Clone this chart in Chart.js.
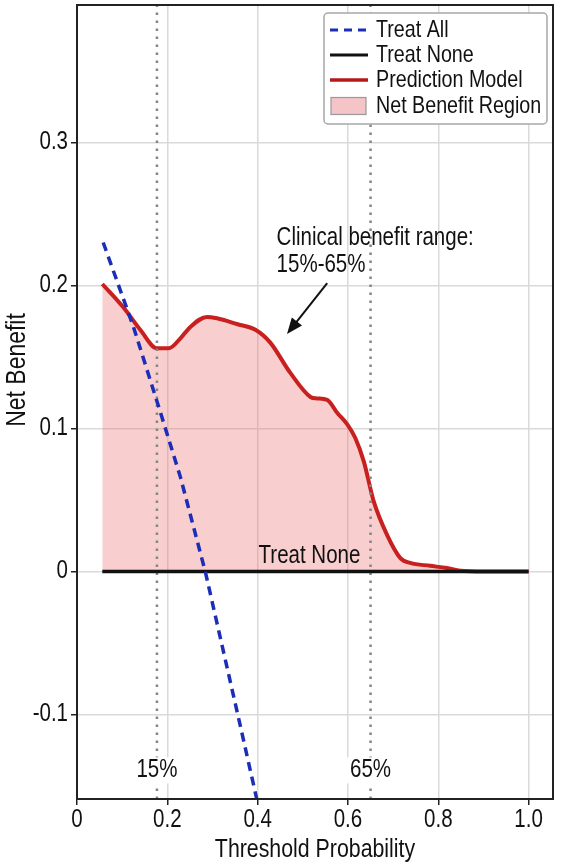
<!DOCTYPE html>
<html>
<head>
<meta charset="utf-8">
<script src="https://cdn.jsdelivr.net/npm/chart.js@4"></script>
<style>
  html, body { margin: 0; padding: 0; background: #fff; }
  canvas { display: block; }
</style>
</head>
<body>
<canvas id="dca" width="566" height="868"></canvas>
<script>
// values
const modelX = [0.056, 0.103, 0.140, 0.177, 0.203, 0.229, 0.251, 0.288, 0.310, 0.354, 0.395, 0.428,
  0.472, 0.517, 0.531, 0.554, 0.576, 0.598, 0.616, 0.635, 0.657, 0.686, 0.716, 0.738, 0.782, 0.819, 0.849, 0.90, 1.0];
const modelY = [0.201, 0.1845, 0.169, 0.156, 0.156, 0.163, 0.171, 0.178, 0.177, 0.173, 0.169, 0.160,
  0.139, 0.122, 0.121, 0.120, 0.111, 0.103, 0.0935, 0.077, 0.049, 0.026, 0.0094, 0.006, 0.004, 0.0024, 0.0005, 0, 0];

const treatAllX = [0.058, 0.125, 0.184, 0.229, 0.284, 0.356, 0.398];
const treatAllY = [0.230, 0.171, 0.112, 0.066, 0, -0.100, -0.159];

const treatNoneX = [0.056, 1.0];
const treatNoneY = [0, 0];

const cutoffs = [0.177, 0.65];
const cutoffLabels = ['15%', '65%'];

const xTickLabels = ['0', '0.2', '0.4', '0.6', '0.8', '1.0'];
const yTickLabels = ['-0.1', '0', '0.1', '0.2', '0.3'];

const legendLabels = ['Treat All', 'Treat None', 'Prediction Model', 'Net Benefit Region'];

const Y_MIN = -0.159, Y_MAX = 0.396, X_MAX = 1.054;
const FONT = "'Liberation Sans', Arial, sans-serif";
const SQUEEZE = 0.82; // reference type is narrow

const toPoints = (xs, ys) => xs.map((v, i) => ({ x: v, y: ys[i] }));

// narrow text helper
function text(ctx, str, x, y, size, align, rot) {
  ctx.save();
  ctx.translate(x, y);
  if (rot) ctx.rotate(rot);
  ctx.scale(SQUEEZE, 1);
  ctx.font = size + 'px ' + FONT;
  ctx.textAlign = align || 'left';
  ctx.textBaseline = 'middle';
  ctx.fillStyle = '#111';
  ctx.fillText(str, 0, 0);
  ctx.restore();
}

const cutoffSets = cutoffs.map(c => ({
  label: 'cutoff',
  data: [{ x: c, y: Y_MIN }, { x: c, y: Y_MAX }],
  borderColor: '#858585',
  borderWidth: 2.5,
  borderDash: [2.5, 5.5],
  pointRadius: 0,
  order: 3
}));

const overlay = {
  id: 'overlay',
  afterDraw(chart) {
    const { ctx, chartArea: a, scales: { x, y } } = chart;
    ctx.save();

    // frame
    ctx.strokeStyle = '#222';
    ctx.lineWidth = 2;
    ctx.strokeRect(a.left, a.top, a.right - a.left, a.bottom - a.top);

    // tick labels
    x.ticks.forEach(t => {
      text(ctx, xTickLabels[Math.round(t.value / 0.2)], x.getPixelForValue(t.value), a.bottom + 21, 25, 'center');
    });
    y.ticks.forEach(t => {
      text(ctx, yTickLabels[Math.round(t.value * 10) + 1], a.left - 9, y.getPixelForValue(t.value), 25, 'right');
    });

    // axis titles
    text(ctx, 'Threshold Probability', (a.left + a.right) / 2, 850, 26, 'center');
    text(ctx, 'Net Benefit', 17, 370, 28, 'center', -Math.PI / 2);

    // cutoff labels
    ctx.font = '25px ' + FONT;
    cutoffs.forEach((c, i) => {
      const px = x.getPixelForValue(c), py = y.getPixelForValue(-0.139);
      const w = ctx.measureText(cutoffLabels[i]).width * SQUEEZE;
      ctx.fillStyle = '#fff';
      ctx.fillRect(px - w / 2 - 3, py - 13, w + 6, 26);
      text(ctx, cutoffLabels[i], px, py, 25, 'center');
    });

    // annotation text
    text(ctx, 'Clinical benefit range:', x.getPixelForValue(0.442), y.getPixelForValue(0.2334), 25);
    text(ctx, '15%-65%', x.getPixelForValue(0.442), y.getPixelForValue(0.2143), 25);
    text(ctx, 'Treat None', x.getPixelForValue(0.402), y.getPixelForValue(0.0105), 25);

    // arrow
    const x0 = x.getPixelForValue(0.554), y0 = y.getPixelForValue(0.2016);
    const x1 = x.getPixelForValue(0.465), y1 = y.getPixelForValue(0.166);
    const ang = Math.atan2(y1 - y0, x1 - x0);
    ctx.strokeStyle = '#111';
    ctx.fillStyle = '#111';
    ctx.lineWidth = 2;
    ctx.beginPath();
    ctx.moveTo(x0, y0);
    ctx.lineTo(x1 - 10 * Math.cos(ang), y1 - 10 * Math.sin(ang));
    ctx.stroke();
    ctx.beginPath();
    ctx.moveTo(x1, y1);
    ctx.lineTo(x1 - 16 * Math.cos(ang) + 6.5 * Math.sin(ang), y1 - 16 * Math.sin(ang) - 6.5 * Math.cos(ang));
    ctx.lineTo(x1 - 16 * Math.cos(ang) - 6.5 * Math.sin(ang), y1 - 16 * Math.sin(ang) + 6.5 * Math.cos(ang));
    ctx.closePath();
    ctx.fill();

    // legend box
    const lx = a.right - 229, ly = a.top + 8, lw = 223, lh = 111;
    ctx.fillStyle = '#fff';
    ctx.strokeStyle = '#a8a8a8';
    ctx.lineWidth = 1.5;
    ctx.beginPath();
    ctx.roundRect(lx, ly, lw, lh, 4);
    ctx.fill();
    ctx.stroke();

    const rows = [ly + 17, ly + 42, ly + 67, ly + 93];
    const sx0 = lx + 6, sx1 = lx + 44;
    ctx.lineCap = 'butt';
    ctx.strokeStyle = '#1c2db8'; ctx.lineWidth = 3; ctx.setLineDash([8, 6]);
    ctx.beginPath(); ctx.moveTo(sx0, rows[0]); ctx.lineTo(sx1, rows[0]); ctx.stroke();
    ctx.setLineDash([]);
    ctx.strokeStyle = '#111'; ctx.lineWidth = 3;
    ctx.beginPath(); ctx.moveTo(sx0, rows[1]); ctx.lineTo(sx1, rows[1]); ctx.stroke();
    ctx.strokeStyle = '#b51a1a'; ctx.lineWidth = 3.5;
    ctx.beginPath(); ctx.moveTo(sx0, rows[2]); ctx.lineTo(sx1, rows[2]); ctx.stroke();
    ctx.fillStyle = '#f4c4c6'; ctx.strokeStyle = '#999'; ctx.lineWidth = 1.2;
    ctx.fillRect(sx0 + 1, rows[3] - 8.5, 35, 17);
    ctx.strokeRect(sx0 + 1, rows[3] - 8.5, 35, 17);

    legendLabels.forEach((t, i) => text(ctx, t, lx + 52, rows[i], 24));

    ctx.restore();
  }
};

new Chart(document.getElementById('dca'), {
  type: 'line',
  data: {
    datasets: [
      {
        label: 'Treat All',
        data: toPoints(treatAllX, treatAllY),
        borderColor: '#1c2db8',
        borderWidth: 3.5,
        borderDash: [9, 6],
        pointRadius: 0,
        order: 1
      },
      {
        label: 'Treat None',
        data: toPoints(treatNoneX, treatNoneY),
        borderColor: '#111',
        borderWidth: 3.5,
        pointRadius: 0,
        order: 2
      },
      ...cutoffSets,
      {
        label: 'Prediction Model',
        data: toPoints(modelX, modelY),
        borderColor: '#c8201f',
        borderWidth: 4,
        backgroundColor: 'rgba(235, 105, 105, 0.33)',
        fill: 'origin',
        cubicInterpolationMode: 'monotone',
        pointRadius: 0,
        order: 4
      }
    ]
  },
  options: {
    responsive: false,
    animation: false,
    devicePixelRatio: 1,
    layout: { padding: { top: 5, right: 13, left: 0, bottom: 0 } },
    plugins: { legend: { display: false }, tooltip: { enabled: false } },
    scales: {
      x: {
        type: 'linear',
        min: 0,
        max: X_MAX,
        afterFit: s => { s.height = 69; s.paddingLeft = 0; s.paddingRight = 0; },
        ticks: { stepSize: 0.2, includeBounds: false, display: false },
        grid: { color: '#dadada', lineWidth: 1.5, tickColor: '#222', tickLength: 6 },
        border: { color: '#222', width: 2 }
      },
      y: {
        min: Y_MIN,
        max: Y_MAX,
        afterFit: s => { s.width = 77; s.paddingTop = 0; s.paddingBottom = 0; },
        ticks: { stepSize: 0.1, includeBounds: false, display: false },
        grid: { color: '#dadada', lineWidth: 1.5, tickColor: '#222', tickLength: 6 },
        border: { color: '#222', width: 2 }
      }
    }
  },
  plugins: [overlay]
});
</script>
</body>
</html>
